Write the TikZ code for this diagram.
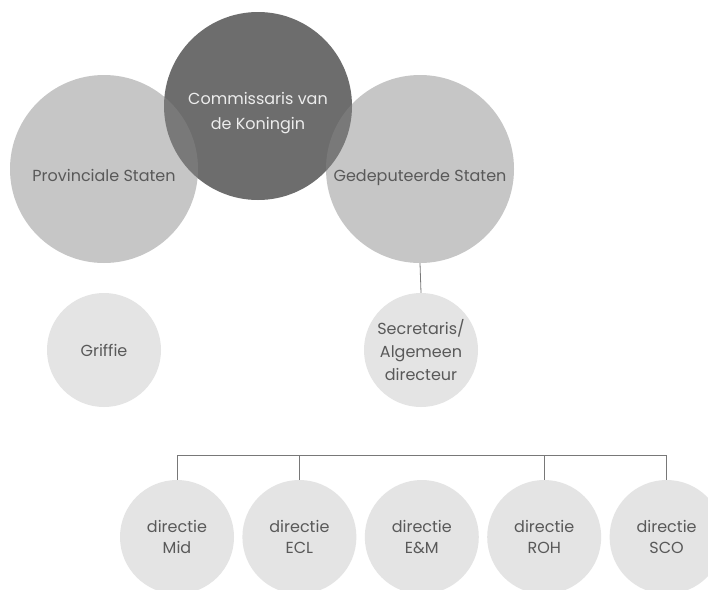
\documentclass[tikz,border=0pt]{standalone}
\usepackage{fontspec}
\setmainfont{Poppins}
\usetikzlibrary{positioning}

\definecolor{bigfill}{gray}{0.533}
\definecolor{boss}{gray}{0.427}
\definecolor{smallfill}{gray}{0.894}
\definecolor{labeltext}{gray}{0.35}
\definecolor{wire}{gray}{0.47}

\tikzset{
  staten/.style={circle, fill=bigfill, fill opacity=0.48, text opacity=1,
    minimum size=188pt, inner sep=0pt, align=center, text=labeltext,
    font=\fontsize{16}{20}\selectfont},
  bossnode/.style={circle, fill=boss, minimum size=188pt, inner sep=0pt,
    align=center, text=white!93!black, font=\fontsize{16}{25}\selectfont},
  unit/.style={circle, fill=smallfill, minimum size=114pt, inner sep=0pt,
    align=center, text=labeltext, font=\fontsize{16}{21}\selectfont},
  wireline/.style={draw=wire, line width=0.8pt}
}

\begin{document}
\begin{tikzpicture}[x=1pt, y=-1pt]
        \clip (0,0) rectangle (708,589);
        \fill[white] (0,0) rectangle (708,589);

        % Top: the three big circles
        \node[bossnode] (cvdk) at (258,106)
            {\rule{0pt}{26pt}Commissaris van\\de Koningin};
        \node[staten]   (ps)   at (104,169)
            {\raisebox{-12pt}[0pt][0pt]{Provinciale Staten}};
        \node[staten]   (gs)   at (420,169)
            {\raisebox{-12pt}[0pt][0pt]{Gedeputeerde Staten}};

        % Middle row
        \node[unit] (griffie) at (104,350) {Griffie};
        \node[unit] (secr)    at (421,350)
            {Secretaris/\\[2pt]Algemeen\\[2pt]directeur};

        % Directies
        \node[unit]                     (mid) at (177,537) {directie\\Mid};
        \node[unit, right=8pt of mid]   (ecl) {directie\\ECL};
        \node[unit, right=8pt of ecl]   (em)  {directie\\E\&M};
        \node[unit, right=8pt of em]    (roh) {directie\\ROH};
        \node[unit, right=8pt of roh]   (sco) {directie\\SCO};

        \coordinate (busl) at (177,455);
        \coordinate (busr) at (666,455);

        \draw[wireline] (gs.south) -- (secr.north);
        \draw[wireline] (busl) -- (busr);
        \foreach \d in {mid, ecl, roh, sco}
            \draw[wireline] (\d.north |- busl) -- (\d.north);
\end{tikzpicture}
\end{document}
